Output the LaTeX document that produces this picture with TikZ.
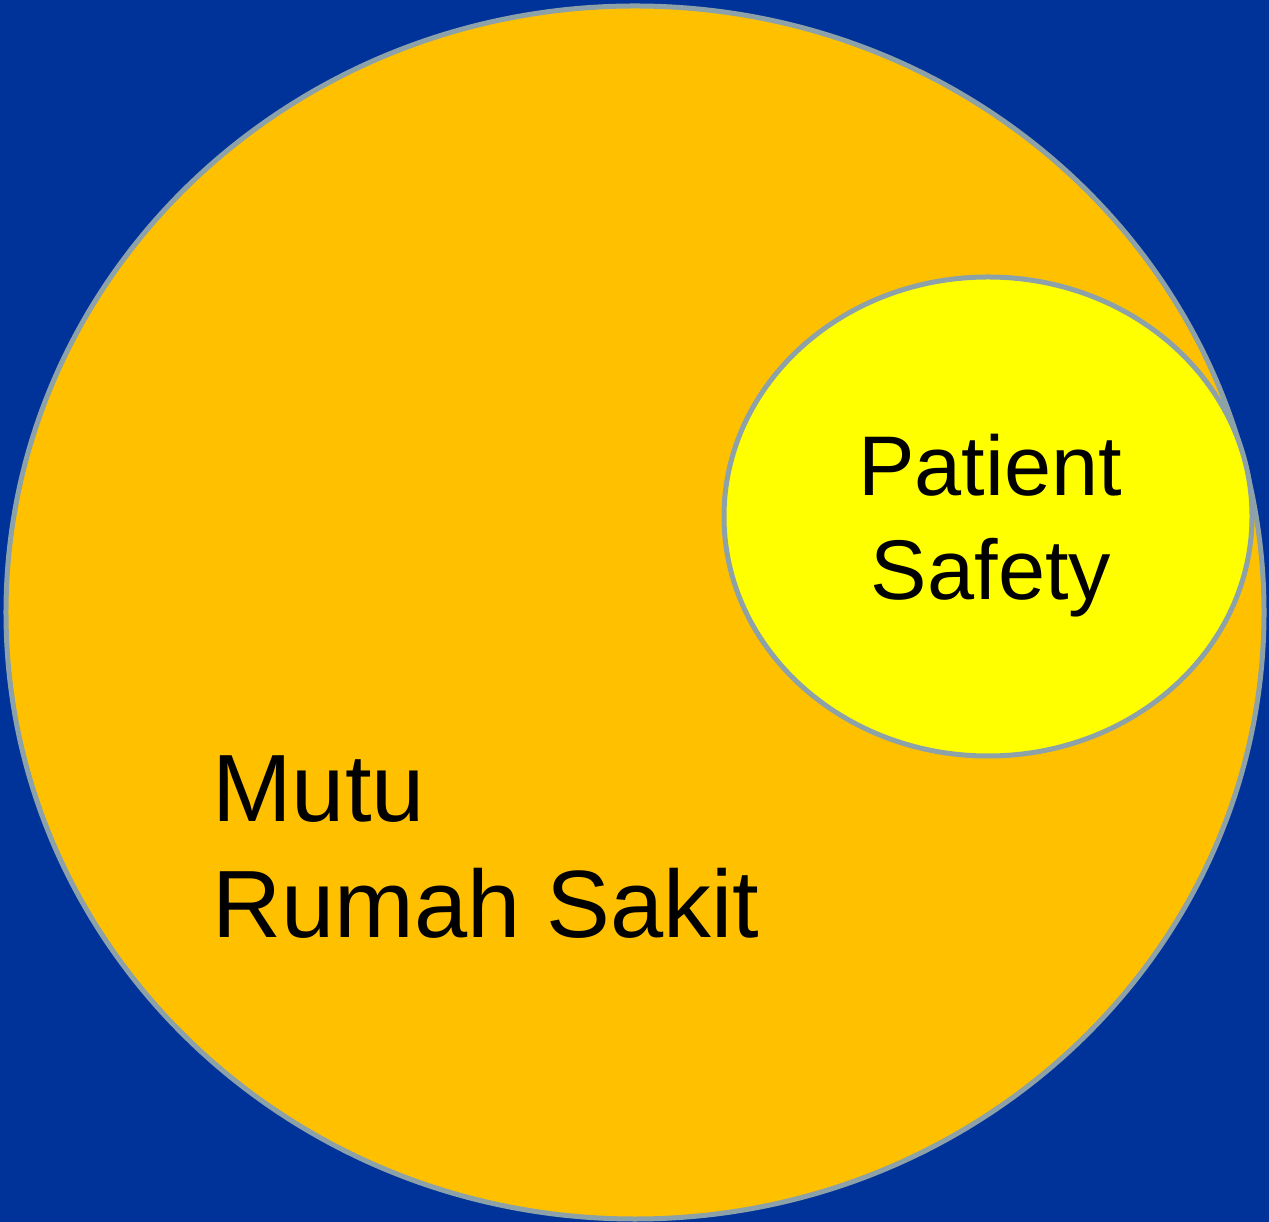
\documentclass[tikz,border=0pt]{standalone}
\usepackage{fontspec}
\setmainfont{Liberation Sans}
\usetikzlibrary{shapes.geometric}
\definecolor{bgblue}{RGB}{0,51,153}
\definecolor{rsorange}{RGB}{255,192,0}
\definecolor{psyellow}{RGB}{255,255,0}
\definecolor{rimgray}{RGB}{140,162,168}

\begin{document}
\begin{tikzpicture}[x=1bp,y=1bp]
\tikzstyle{every node}+=[inner sep=0pt]
\tikzstyle{rim}=[ellipse, draw=rimgray, line width=5bp]
\fill [bgblue] (0,0) rectangle (1269,1222);
\node (mutu) [rim, fill=rsorange, minimum width=1258bp, minimum height=1213bp] at (635,609.5) {};
\node (safety) [rim, fill=psyellow, minimum width=528bp, minimum height=479bp] at (988,705.5) {};
\draw (990,726) node [anchor=base] (ps1) {\fontsize{85}{91}\selectfont Patient};
\draw (991,622) node [anchor=base] (ps2) {\fontsize{85}{91}\selectfont Safety};
\draw (212,400) node [anchor=base west] (rs1) {\fontsize{96}{115}\selectfont Mutu};
\draw (212,284) node [anchor=base west] (rs2) {\fontsize{96}{115}\selectfont Rumah Sakit};
\end{tikzpicture}
\end{document}
